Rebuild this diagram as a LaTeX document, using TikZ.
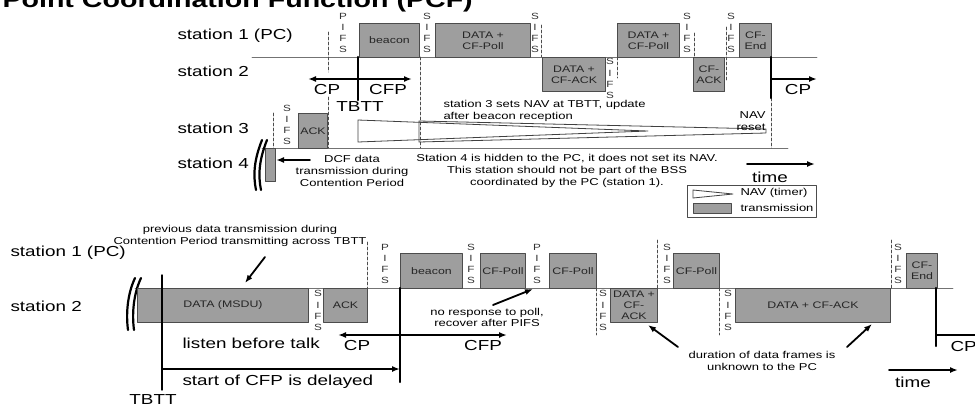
\documentclass[tikz,border=0pt]{standalone}
\usepackage{fontspec}
\setmainfont{Liberation Sans}[FakeStretch=1.3]
\usetikzlibrary{arrows.meta}

% 竖排的帧间隔字母
\newcommand\gapS{S\\I\\F\\S}
\newcommand\gapP{P\\I\\F\\S}

\begin{document}
\begin{tikzpicture}[x=1pt, y=-1pt, line width=1.0pt, line cap=round, line join=round,
  frame/.style={draw=black!70, fill=black!38, line width=1.0pt, inner sep=0pt, anchor=north west,
                align=center, text=black!85, font=\fontsize{9.5}{11}\selectfont},
  ifs/.style={inner sep=0pt, align=center, text=black!80, font=\fontsize{9}{11.2}\selectfont},
  big/.style={inner sep=0pt, font=\fontsize{14.5}{17}\selectfont},
  note/.style={inner sep=0pt, align=center, font=\fontsize{10}{11.8}\selectfont},
  gap/.style={dash pattern=on 3pt off 2pt, line width=0.9pt, black!70},
  bold/.style={line width=2.4pt},
  arr/.style={line width=1.8pt, -{Latex[length=8pt,width=6pt]}},
  both/.style={line width=1.8pt, {Latex[length=8pt,width=6pt]}-{Latex[length=8pt,width=6pt]}},
  wire/.style={line width=0.9pt, black!55},
  nav/.style={line width=0.8pt, black!75},
  brk/.style={line width=2.2pt}]

  %% ════ 标题（上沿被裁掉一截）════
  \node[anchor=base west, inner sep=0pt, font=\fontsize{22}{26}\selectfont\bfseries] (title) at (2,7) {Point Coordination Function (PCF)};

  %% ════ 上图：站点名 ════
  \node[big, anchor=west] (s1A) at (177,36) {station 1 (PC)};
  \node[big, anchor=west] (s2A) at (177,71) {station 2};
  \node[big, anchor=west] (s3A) at (177,128) {station 3};
  \node[big, anchor=west] (s4A) at (177,163) {station 4};

  %% ════ 上图：时间轴 ════
  \draw[wire] (252,57) -- (817,57);
  \draw[wire] (262,148) -- (788,148);

  %% ════ 上图：帧 ════
  \node[frame, minimum width=60pt, minimum height=34pt] (bcnA) at (359,23) {beacon};
  \node[frame, minimum width=95pt, minimum height=34pt] (pollA) at (435,23) {DATA +\\CF-Poll};
  \node[frame, minimum width=63pt, minimum height=34pt] (dackA) at (542,57) {DATA +\\CF-ACK};
  \node[frame, minimum width=62pt, minimum height=34pt] (pollB) at (617,23) {DATA +\\CF-Poll};
  \node[frame, minimum width=31pt, minimum height=34pt] (cfackA) at (693,57) {CF-\\ACK};
  \node[frame, minimum width=32pt, minimum height=34pt] (endA) at (739,23) {CF-\\End};
  \node[frame, minimum width=29pt, minimum height=35pt] (ackC) at (298,113) {ACK};
  \node[frame, minimum width=10pt, minimum height=33pt] (dcfD) at (265,148) {};

  %% ════ 上图：IFS 与虚线 ════
  \node[ifs] (pifsA) at (343,33) {\gapP};
  \node[ifs] (sifsA) at (427,33) {\gapS};
  \node[ifs] (sifsB) at (535,33) {\gapS};
  \node[ifs] (sifsC) at (610,78.5) {\gapS};
  \node[ifs] (sifsD) at (687,33) {\gapS};
  \node[ifs] (sifsE) at (731,33) {\gapS};
  \node[ifs] (sifsF) at (287,125) {\gapS};
  \draw[gap] (328,32) -- (328,72);
  \draw[gap] (328,97) -- (328,148);
  \draw[gap] (420,57) -- (420,148);
  \draw[gap] (541,25) -- (541,57);
  \draw[gap] (617,57) -- (617,78);
  \draw[gap] (694,33) -- (694,57);
  \draw[gap] (726,27) -- (726,80);
  \draw[gap] (771,98) -- (771,148);
  \draw[gap] (273,113) -- (273,148);

  %% ════ 上图：TBTT、CP / CFP ════
  \draw[bold] (358,57) -- (358,100);
  \draw[bold] (771,57) -- (771,98);
  \coordinate (cpL) at (308,79);
  \coordinate (cfpR) at (412,79);
  \draw[both] (cpL) -- (cfpR);
  \node[big] (cpA) at (327,90) {CP};
  \node[big] (cfpA) at (388,90) {CFP};
  \node[big] (tbttA) at (360,107) {TBTT};
  \coordinate (cpS) at (771,79);
  \coordinate (cpE) at (817,79);
  \draw[arr] (cpS) -- (cpE);
  \node[big] (cpB) at (798,90) {CP};

  %% ════ 上图：NAV ════
  \draw[nav] (358,120) -- (648,131) -- (358,142) -- cycle;
  \draw[nav] (419,121) -- (766,129) -- (766,133) -- (419,142) -- cycle;
  \node[note, anchor=west, align=left] (navtxt) at (443,111) {station 3 sets NAV at TBTT, update\\after beacon reception};
  \node[note, anchor=east, align=right] (navrst) at (766,121) {NAV\\reset};

  %% ════ 上图：station 4 ════
  \draw[brk] (262,140) .. controls (254,160) and (253,175) .. (256,190);
  \draw[brk] (267,140) .. controls (259,160) and (258,175) .. (261,190);
  \node[note] (dcftxt) at (352,171) {DCF data\\transmission during\\Contention Period};
  \coordinate (dcfT) at (310,160);
  \draw[arr] (dcfT) -- (dcfD.east |- dcfT);
  \node[note] (hidtxt) at (567,171) {Station 4 is hidden to the PC, it does not set its NAV.\\This station should not be part of the BSS\\coordinated by the PC (station 1).};
  \coordinate (timeL) at (747,164);
  \coordinate (timeR) at (815,164);
  \draw[arr] (timeL) -- (timeR);
  \node[big] (timeA) at (770,177) {time};

  %% ════ 图例 ════
  \node[draw=black!70, line width=0.9pt, minimum width=129pt, minimum height=32pt, anchor=north west] (legend) at (687,185) {};
  \draw[nav] (693,190) -- (733,194) -- (693,198) -- cycle;
  \node[note, anchor=west] (legnav) at (740,193) {NAV (timer)};
  \node[frame, minimum width=38pt, minimum height=10pt] (legbox) at (693,203) {};
  \node[note, anchor=west] (legtx) at (740,208) {transmission};

  %% ════ 下图：站点名与时间轴 ════
  \node[big, anchor=west] (s1B) at (10,253) {station 1 (PC)};
  \node[big, anchor=west] (s2B) at (10,306) {station 2};
  \draw[wire] (135,288) -- (953,288);
  \draw[brk] (135,278) .. controls (127,295) and (126,315) .. (128,330);
  \draw[brk] (141,278) .. controls (133,295) and (132,315) .. (134,330);

  %% ════ 下图：帧 ════
  \node[frame, minimum width=171pt, minimum height=34pt] (msdu) at (137,288) {DATA (MSDU)};
  \node[frame, minimum width=44pt, minimum height=34pt] (ackB) at (323,288) {ACK};
  \node[frame, minimum width=62pt, minimum height=35pt] (bcnB) at (400,253) {beacon};
  \node[frame, minimum width=45pt, minimum height=35pt] (pollC) at (480,253) {CF-Poll};
  \node[frame, minimum width=47pt, minimum height=35pt] (pollD) at (549,253) {CF-Poll};
  \node[frame, minimum width=47pt, minimum height=34pt] (dackB) at (610,288) {DATA +\\CF-\\ACK};
  \node[frame, minimum width=46pt, minimum height=35pt] (pollE) at (673,253) {CF-Poll};
  \node[frame, minimum width=155pt, minimum height=34pt] (dackC) at (735,288) {DATA + CF-ACK};
  \node[frame, minimum width=31pt, minimum height=35pt] (endB) at (906,253) {CF-\\End};

  %% ════ 下图：IFS 与虚线 ════
  \node[ifs] (sifsG) at (318,310.5) {\gapS};
  \node[ifs] (pifsB) at (385,264) {\gapP};
  \node[ifs] (sifsH) at (471,264) {\gapS};
  \node[ifs] (pifsC) at (537,264) {\gapP};
  \node[ifs] (sifsI) at (603,310.5) {\gapS};
  \node[ifs] (sifsJ) at (667,264) {\gapS};
  \node[ifs] (sifsK) at (728,310.5) {\gapS};
  \node[ifs] (sifsL) at (898,264) {\gapS};
  \draw[gap] (367,242) -- (367,322);
  \draw[gap] (596,288) -- (596,335);
  \draw[gap] (657,240) -- (657,288);
  \draw[gap] (719,288) -- (719,335);
  \draw[gap] (891,240) -- (891,288);

  %% ════ 下图：TBTT、CP / CFP ════
  \draw[line width=1.4pt] (162,275) -- (162,390);
  \draw[bold] (400,288) -- (400,382);
  \draw[bold] (936,288) -- (936,346);
  \node[big] (tbttB) at (153,400) {TBTT};
  \node[big, anchor=west] (lbt) at (182,343) {listen before talk};
  \node[big, anchor=west] (delay) at (182,382) {start of CFP is delayed};
  \coordinate (dlyL) at (162,369);
  \coordinate (dlyR) at (400,369);
  \draw[arr] (dlyL) -- (dlyR);
  \coordinate (cpL2) at (338,335);
  \coordinate (cfpR2) at (507,335);
  \draw[both] (cpL2) -- (cfpR2);
  \node[big] (cpC) at (357,346) {CP};
  \node[big] (cfpB) at (483,346) {CFP};
  \coordinate (cpS2) at (936,335);
  \coordinate (cpE2) at (985,335);
  \draw[arr] (cpS2) -- (cpE2);
  \node[big, anchor=west] (cpD) at (950,347) {CP};
  \coordinate (timeL2) at (889,370);
  \coordinate (timeR2) at (958,370);
  \draw[arr] (timeL2) -- (timeR2);
  \node[big] (timeB) at (913,382) {time};

  %% ════ 下图：说明文字 ════
  \node[note] (prev) at (240,236) {previous data transmission during\\Contention Period transmitting across TBTT};
  \coordinate (prevT) at (265,257);
  \coordinate (prevH) at (245,283);
  \draw[arr] (prevT) -- (prevH);
  \node[note] (nores) at (487,317.5) {no response to poll,\\recover after PIFS};
  \coordinate (noresT) at (493,305);
  \coordinate (noresH) at (533,289);
  \draw[arr] (noresT) -- (noresH);
  \node[note] (dur) at (762,361) {duration of data frames is\\unknown to the PC};
  \coordinate (durTL) at (678,347);
  \coordinate (durHL) at (648,325);
  \coordinate (durTR) at (847,347);
  \coordinate (durHR) at (872,324);
  \draw[arr] (durTL) -- (durHL);
  \draw[arr] (durTR) -- (durHR);

  % 钉死画布
  \pgfresetboundingbox
  \path[use as bounding box] (0,0) rectangle (975,408);
\end{tikzpicture}
\end{document}
